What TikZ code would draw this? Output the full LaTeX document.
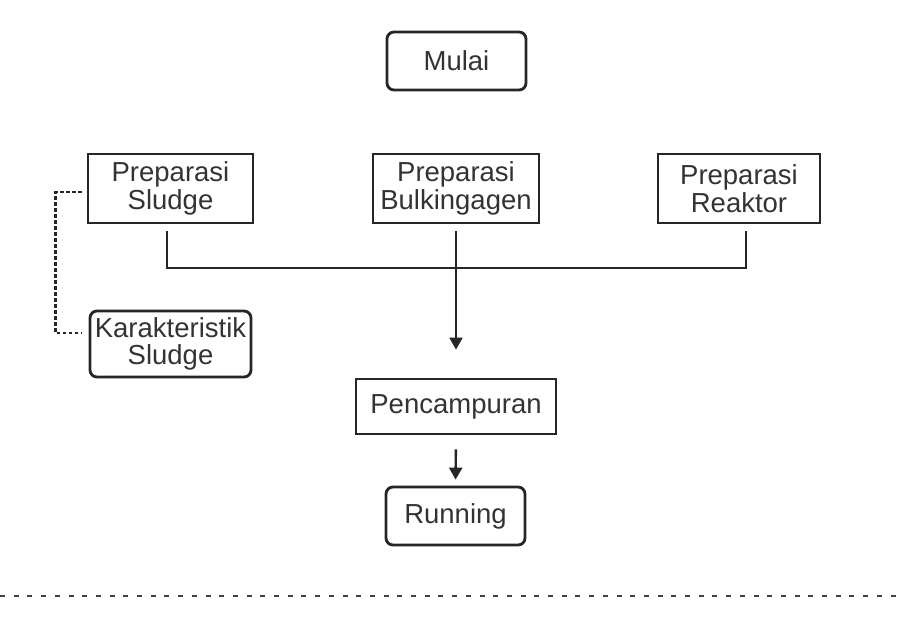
\documentclass[tikz,border=0pt]{standalone}
\usepackage{fontspec}
\setmainfont{Liberation Sans}
\usetikzlibrary{arrows.meta}
\begin{document}
\begin{tikzpicture}[x=1pt,y=-1pt,
  every node/.style={font=\fontsize{27.5}{27.5}\selectfont, text=black!80, align=center, inner sep=0pt},
  sharpbox/.style={draw=black!85, line width=2.8pt, rectangle},
  roundbox/.style={draw=black!85, line width=2.8pt, rectangle, rounded corners=7pt},
  conn/.style={draw=black!85, line width=2.4pt},
  arr/.style={conn, -{Triangle[width=13pt,length=12pt]}},
  dashline/.style={draw=black!85, line width=2.4pt, dash pattern=on 3.5pt off 2.5pt},
  sepline/.style={draw=black!75, line width=2.4pt, dash pattern=on 5pt off 8.7pt}]
\useasboundingbox (0,0) rectangle (904,625);
\node[roundbox, minimum width=139pt, minimum height=58pt] (mulai) at (456.5,61) {Mulai};
\node[sharpbox, minimum width=165pt, minimum height=69pt] (ps) at (170.5,188.5) {Preparasi\\Sludge};
\node[sharpbox, minimum width=166pt, minimum height=69pt] (pb) at (456,188.5) {Preparasi\\Bulkingagen};
\node[sharpbox, minimum width=162pt, minimum height=69pt] (pr) at (739,188.5) {Preparasi\\Reaktor};
\node[roundbox, minimum width=161pt, minimum height=66pt] (ks) at (170.5,344) {Karakteristik\\Sludge};
\node[sharpbox, minimum width=200pt, minimum height=55pt] (pc) at (456,406.5) {Pencampuran};
\node[roundbox, minimum width=139pt, minimum height=58pt] (run) at (455.5,516) {Running};
\coordinate (jl) at (167,268);
\coordinate (jr) at (746,268);
\draw[conn] (167,231) -- (jl) -- (jr) -- (746,231);
\draw[arr, shorten <=7pt, shorten >=28pt] (pb.south) -- (pc.north);
\draw[arr, shorten <=14pt, shorten >=6pt] (pc.south) -- (run.north);
\draw[dashline] ([xshift=-5pt,yshift=-3.5pt]ps.west) -- ++(-26,0) |- ([xshift=-7pt,yshift=11pt]ks.west);
\coordinate (s1) at (0,596);
\coordinate (s2) at (904,596);
\draw[sepline] (s1) -- (s2);
\end{tikzpicture}
\end{document}
